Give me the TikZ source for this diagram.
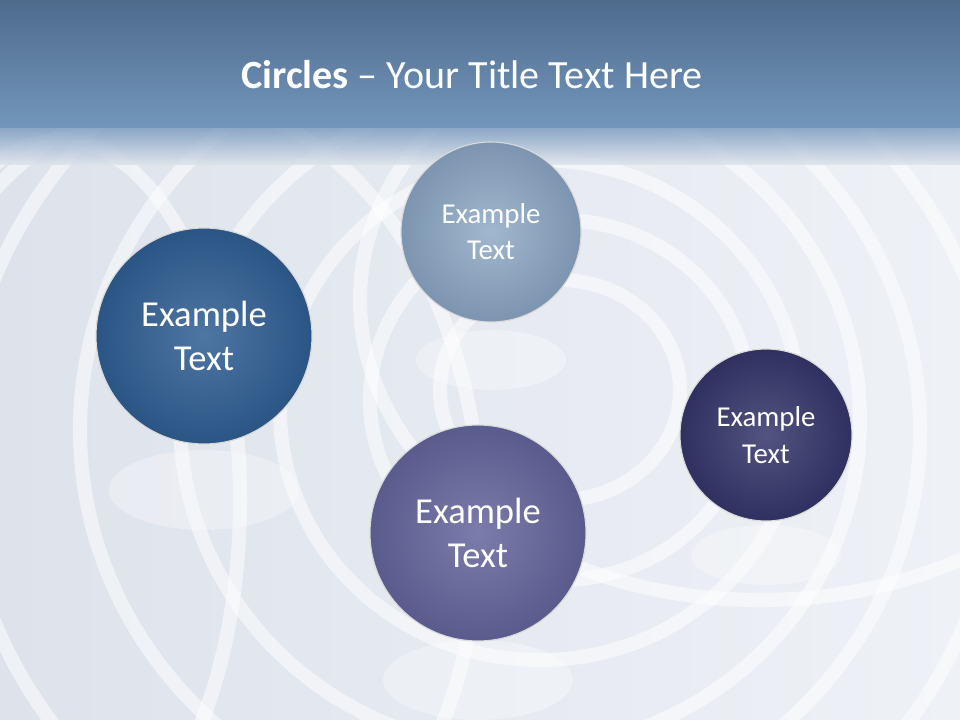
\documentclass[tikz,border=0pt]{standalone}
\usepackage{fontspec}
\setmainfont{Carlito}
\definecolor{bg}{HTML}{DEE3EB}
\definecolor{bgr}{HTML}{EEF1F6}
\definecolor{bandtop}{HTML}{4E6B8C}
\definecolor{bandbot}{HTML}{7396BC}
\definecolor{cA}{HTML}{8AA5C3}
\definecolor{cB}{HTML}{2F5E93}
\definecolor{cC}{HTML}{64659C}
\definecolor{cD}{HTML}{35356B}
\tikzset{
  ball/.style={circle, draw=white!70!gray, line width=0.8pt, text=white, align=center, inner sep=0pt},
  ring/.style={draw=white, opacity=0.5, line width=10},
  refl/.style={fill=white, opacity=0.3}
}
\begin{document}
\begin{tikzpicture}[x=0.025cm,y=-0.025cm]
\useasboundingbox (0,0) rectangle (960,720);
\shade[left color=bg, right color=bgr] (0,0) rectangle (960,720);
\begin{scope}
\clip (0,120) rectangle (960,720);
\foreach \rx/\ry/\cx/\cy in {120/110/560/390, 190/180/560/400, 260/250/540/410, 340/330/520/420, 420/400/500/430, 520/480/480/450, 620/560/470/470, 300/420/180/520, 180/360/60/500, 400/300/760/300}{
  \draw[ring] (\cx,\cy) ellipse [x radius=\rx, y radius=\ry];
}
\end{scope}
\shade[top color=bandtop, bottom color=bandbot] (0,0) rectangle (960,128);
\shade[top color=bandbot, bottom color=bg, opacity=0.8] (0,127) rectangle (960,165);
\node[font=\fontsize{28.5}{34}\selectfont, text=white] (title) at (472,75) {\textbf{Circles} – Your Title Text Here};
% reflections
\fill[refl] (491,360) ellipse [x radius=75, y radius=30];
\fill[refl] (204,490) ellipse [x radius=95, y radius=40];
\fill[refl] (478,680) ellipse [x radius=95, y radius=40];
\fill[refl] (766,555) ellipse [x radius=75, y radius=30];
\node[ball, minimum size=180*0.025cm, inner color=cA!80!white, outer color=cA!90!black, font=\fontsize{20.5}{25.5}\selectfont] (a) at (491,232) {Example\\Text};
\node[ball, minimum size=216*0.025cm, inner color=cB!85!white, outer color=cB!90!black, font=\fontsize{26}{31.5}\selectfont] (b) at (204,336) {Example\\Text};
\node[ball, minimum size=216*0.025cm, inner color=cC!85!white, outer color=cC!90!black, font=\fontsize{26}{31.5}\selectfont] (c) at (478,533) {Example\\Text};
\node[ball, minimum size=172*0.025cm, inner color=cD!85!white, outer color=cD!90!black, font=\fontsize{20.5}{26}\selectfont] (d) at (766,435) {Example\\Text};
\end{tikzpicture}
\end{document}
